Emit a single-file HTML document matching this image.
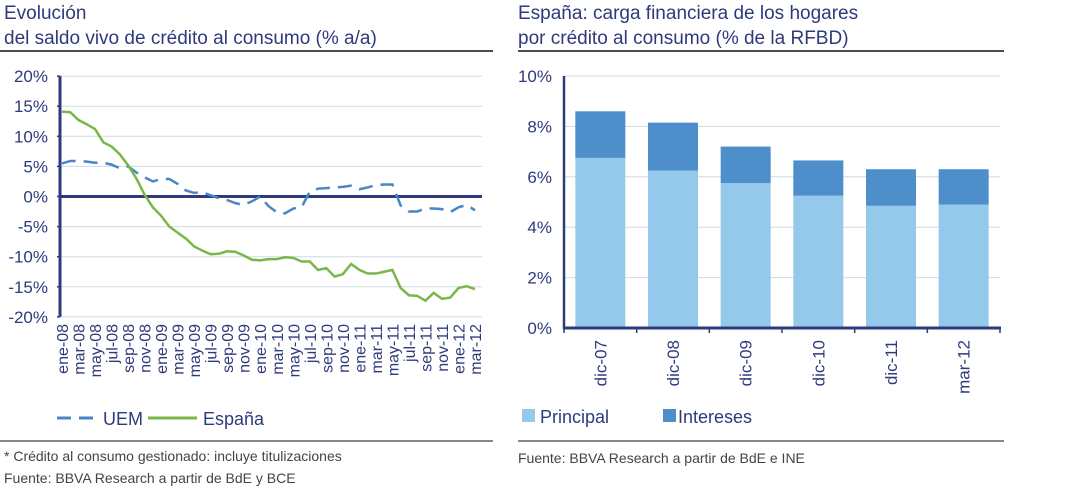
<!DOCTYPE html>
<html><head><meta charset="utf-8">
<style>
body{margin:0;background:#fff;}
svg{display:block;font-family:"Liberation Sans",sans-serif;}
</style></head>
<body>
<svg id="c" width="1092" height="494" viewBox="0 0 1092 494">
<g fill="#2e3a7c" font-size="19">
<text x="4" y="19">Evolución</text>
<text x="4" y="44">del saldo vivo de crédito al consumo (% a/a)</text>
</g>
<line x1="0" y1="51" x2="493" y2="51" stroke="#111" stroke-width="1.5"/>
<g fill="#2e3a7c" font-size="19">
<text x="518" y="19">España: carga financiera de los hogares</text>
<text x="518" y="44">por crédito al consumo (% de la RFBD)</text>
</g>
<line x1="518" y1="51" x2="1004" y2="51" stroke="#111" stroke-width="1.5"/>
<g id="left"></g>
<g id="right"></g>
<g font-size="18" fill="#2e3a7c">
<line x1="57" y1="418" x2="98" y2="418" stroke="#4a86c5" stroke-width="3" stroke-dasharray="14,8"/>
<text x="103" y="425">UEM</text>
<line x1="148" y1="418" x2="197" y2="418" stroke="#7ab648" stroke-width="3"/>
<text x="203" y="425">España</text>
</g>
<line x1="0" y1="441" x2="493" y2="441" stroke="#111" stroke-width="1"/>
<g font-size="14" fill="#444">
<text x="4" y="461">* Crédito al consumo gestionado: incluye titulizaciones</text>
<text x="4" y="483">Fuente: BBVA Research a partir de BdE y BCE</text>
</g>
<g font-size="18" fill="#2e3a7c">
<rect x="522" y="409" width="13" height="13" fill="#94c9ec"/>
<text x="540" y="423">Principal</text>
<rect x="663" y="409" width="13" height="13" fill="#4d8ecb"/>
<text x="678" y="423">Intereses</text>
</g>
<line x1="518" y1="441" x2="1004" y2="441" stroke="#111" stroke-width="1"/>
<text x="518" y="463" font-size="14" fill="#444">Fuente: BBVA Research a partir de BdE e INE</text>
</svg>
<script>
const monthNames=["ene","feb","mar","abr","may","jun","jul","ago","sep","oct","nov","dic"];
const espana=[14.1,14.0,12.7,12.0,11.2,9.0,8.3,7.0,5.2,3.0,0.3,-1.8,-3.2,-5.0,-6.0,-7.0,-8.3,-9.0,-9.6,-9.5,-9.1,-9.2,-9.8,-10.5,-10.6,-10.4,-10.4,-10.1,-10.2,-10.8,-10.8,-12.2,-11.9,-13.3,-12.9,-11.2,-12.2,-12.8,-12.8,-12.5,-12.2,-15.2,-16.4,-16.5,-17.3,-16.0,-17.0,-16.8,-15.2,-14.9,-15.4];
const uem=[5.5,5.9,5.9,5.8,5.6,5.6,5.3,4.7,5.0,4.0,3.2,2.5,2.9,2.9,2.1,1.0,0.6,0.7,0.2,-0.3,-0.6,-1.1,-1.4,-0.8,0.0,-1.6,-2.6,-2.8,-2.0,-1.8,0.8,1.3,1.4,1.5,1.6,1.8,1.2,1.5,1.9,2.0,2.0,-1.5,-2.5,-2.5,-2.0,-2.0,-2.1,-2.6,-1.8,-1.4,-2.3];
const leftTicks=[20,15,10,5,0,-5,-10,-15,-20];
const barCats=["dic-07","dic-08","dic-09","dic-10","dic-11","mar-12"];
const principal=[6.75,6.25,5.75,5.25,4.85,4.9];
const intereses=[1.85,1.9,1.45,1.4,1.45,1.4];
const rightTicks=[0,2,4,6,8,10];

const NS="http://www.w3.org/2000/svg";
function mk(tag,attrs,parent,txt){const e=document.createElementNS(NS,tag);for(const k in attrs)e.setAttribute(k,attrs[k]);if(txt!==undefined)e.textContent=txt;parent.appendChild(e);return e;}

// Left chart
const L=document.getElementById('left');
const yL=v=>196.5-(v*6.02);
const xL=i=>62+i*8.26;
leftTicks.forEach(t=>{
 const g=mk('line',{x1:60,x2:482,y1:yL(t),y2:yL(t),stroke:t===0?'#2e3a7c':'#cddbe6','stroke-width':t===0?3:1},L);
 
 
 const lb=mk('text',{x:48,y:yL(t)+6,'text-anchor':'end','font-size':17,fill:'#2e3a7c'},L,t+'%');
 
 
 const tk=mk('line',{x1:57,x2:60,y1:yL(t),y2:yL(t),stroke:'#2e3a7c','stroke-width':1.5},L);
 
 
});
const ax=mk('line',{x1:60,x2:60,y1:yL(20),y2:yL(-20),stroke:'#2e3a7c','stroke-width':3},L);


for(let i=0;i<espana.length;i+=2){
 const lbl=monthNames[i%12]+'-'+String(8+Math.floor(i/12)).padStart(2,'0');
 const t=mk('text',{transform:`translate(${xL(i)+6},324) rotate(-90)`,'text-anchor':'end','font-size':16,fill:'#2e3a7c'},L,lbl);
 
 
}
const pU=mk('path',{d:uem.map((v,i)=>(i?'L':'M')+xL(i)+','+yL(v)).join(''),fill:'none',stroke:'#4a86c5','stroke-width':2.5,'stroke-dasharray':'14,8'},L);


const pE=mk('path',{d:espana.map((v,i)=>(i?'L':'M')+xL(i)+','+yL(v)).join(''),fill:'none',stroke:'#7ab648','stroke-width':2.5},L);



// Right chart
const R=document.getElementById('right');
const yR=v=>328-v*25.2;
const step=(1000-564)/barCats.length;
const xc=i=>564+step*(i+0.5);
rightTicks.forEach(t=>{
 if(t>0){const g=mk('line',{x1:564,x2:1000,y1:yR(t),y2:yR(t),stroke:'#cddbe6','stroke-width':1},R);
 
 }
 const lb=mk('text',{x:552,y:yR(t)+6,'text-anchor':'end','font-size':17,fill:'#2e3a7c'},R,t+'%');
 
 
});
barCats.forEach((c,i)=>{
 const w=50,x=xc(i)-w/2;
 const b1=mk('rect',{x:x,y:yR(principal[i]),width:w,height:yR(0)-yR(principal[i]),fill:'#94c9ec'},R);
 
 
 const top=principal[i]+intereses[i];
 const b2=mk('rect',{x:x,y:yR(top),width:w,height:yR(principal[i])-yR(top),fill:'#4d8ecb'},R);
 
 
 const t=mk('text',{transform:`translate(${xc(i)+6},340) rotate(-90)`,'text-anchor':'end','font-size':17,fill:'#2e3a7c'},R,c);
 
 
});
for(let i=0;i<=barCats.length;i++){
 const tk=mk('line',{x1:564+step*i,x2:564+step*i,y1:328,y2:333,stroke:'#2e3a7c','stroke-width':1.5},R);
 
 
}
const ay=mk('line',{x1:564,x2:564,y1:yR(10),y2:329,stroke:'#2e3a7c','stroke-width':2.5},R);


const axx=mk('line',{x1:563,x2:1001,y1:328,y2:328,stroke:'#2e3a7c','stroke-width':3},R);


</script>
</body></html>
